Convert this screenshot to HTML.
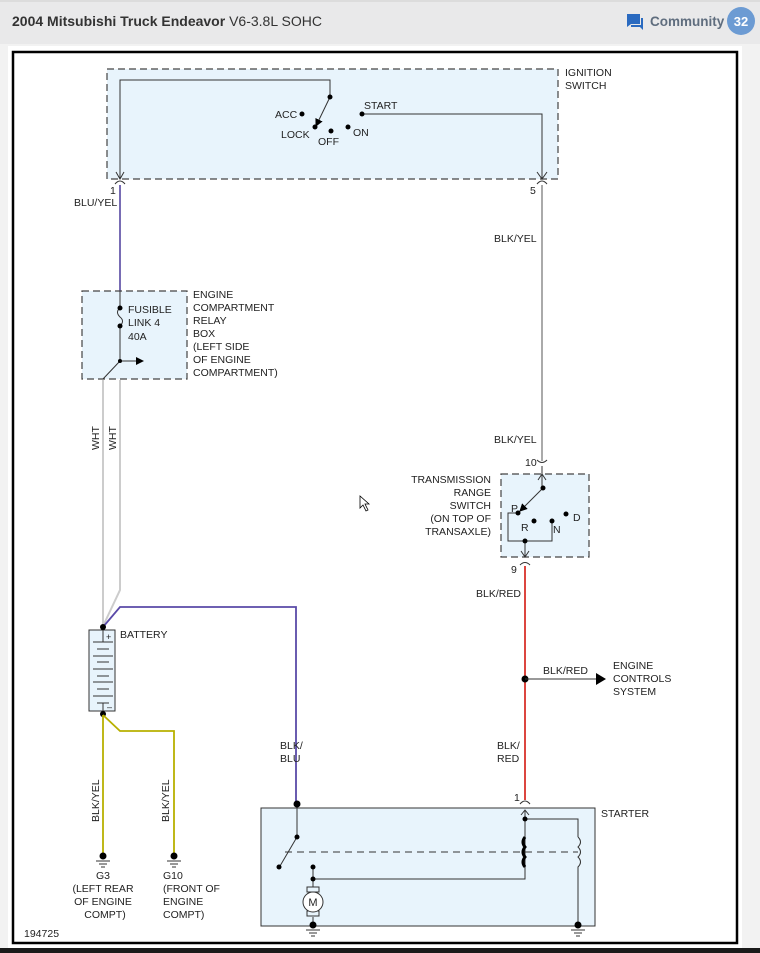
<!DOCTYPE html>
<html><head><style>
html,body{margin:0;padding:0;width:760px;height:953px;overflow:hidden;background:#f2f2f2;font-family:"Liberation Sans",sans-serif}
svg{position:absolute;left:0;top:0}
</style></head><body>
<svg width="760" height="953" viewBox="0 0 760 953" font-family="Liberation Sans, sans-serif">
<defs>
<marker id="ah" markerWidth="8" markerHeight="8" refX="7" refY="4" orient="auto" markerUnits="userSpaceOnUse"><path d="M0,0 L8,4 L0,8z" fill="#000"/></marker>
</defs>
<rect x="0" y="0" width="760" height="44" fill="#e9e9ea"/>
<line x1="0" y1="1" x2="760" y2="1" stroke="#cfcfcf"/>
<text x="12" y="26" font-size="14" fill="#333"><tspan font-weight="bold">2004 Mitsubishi Truck Endeavor</tspan> V6-3.8L SOHC</text>
<path d="M627,14 h13 v10 h-9 l-4,3z" fill="#2a6ac0"/><path d="M641,18 h2 v12 l-3,-3 h-9 v-2 h10z" fill="#2a6ac0"/>
<text x="650" y="26" font-size="13.5" font-weight="bold" fill="#5f6d7e">Community</text>
<circle cx="741" cy="21" r="14" fill="#6c9bd3"/>
<text x="741" y="26" font-size="13" font-weight="bold" fill="#fff" text-anchor="middle">32</text>
<rect x="8" y="46" width="734" height="902" fill="#fff"/>
<rect x="13" y="52" width="724" height="891" fill="#fff" stroke="#000" stroke-width="2.5"/>
<rect x="0" y="948" width="760" height="5" fill="#1a1a1a"/>

<g font-size="10.5" fill="#222">
<!-- ignition -->
<rect x="107" y="69" width="451" height="110" fill="#e8f4fc" stroke="#444" stroke-width="1.2" stroke-dasharray="7,4"/>
<text x="565" y="76">IGNITION</text><text x="565" y="89">SWITCH</text>
<g stroke="#333" fill="none" stroke-width="1">
<polyline points="120,178 120,80 330,80 330,97"/>
<line x1="330" y1="97" x2="316" y2="126" marker-end="url(#ah)"/>
<polyline points="362,114 542,114 542,178"/>
<path d="M116,172 L120,179 L124,172 M115,184 q5,-6 10,0 M537,172 L542,179 L547,172 M537,184 q5,-6 10,0"/>
</g>
<g fill="#000"><circle cx="330" cy="97" r="2.5"/><circle cx="302" cy="114" r="2.5"/><circle cx="315" cy="127" r="2.5"/><circle cx="331" cy="131" r="2.5"/><circle cx="348" cy="127" r="2.5"/><circle cx="362" cy="114" r="2.5"/></g>
<text x="275" y="118">ACC</text><text x="281" y="138">LOCK</text><text x="318" y="145">OFF</text><text x="353" y="136">ON</text><text x="364" y="109">START</text>
<text x="110" y="194">1</text><text x="530" y="194">5</text>
<text x="74" y="206">BLU/YEL</text>
<line x1="120" y1="185" x2="120" y2="300" stroke="#4b3a9a" stroke-width="1.5"/>
<line x1="542" y1="185" x2="542" y2="461" stroke="#555" stroke-width="1"/>
<text x="494" y="242">BLK/YEL</text><text x="494" y="443">BLK/YEL</text>

<!-- fuse box -->
<rect x="82" y="291" width="105" height="88" fill="#e8f4fc" stroke="#444" stroke-width="1.2" stroke-dasharray="7,4"/>
<g stroke="#333" fill="none">
<path d="M120,291 V308 M120,308 q-5,4 0,9 q5,4 0,9 M120,326 V361"/>
<line x1="120" y1="361" x2="143" y2="361" marker-end="url(#ah)"/>
<line x1="120" y1="361" x2="103" y2="379"/>
</g>
<g fill="#000"><circle cx="120" cy="308" r="2.5"/><circle cx="120" cy="326" r="2.5"/><circle cx="120" cy="361" r="2"/></g>
<text x="128" y="313">FUSIBLE</text><text x="128" y="326">LINK 4</text><text x="128" y="340">40A</text>
<text x="193" y="298">ENGINE</text><text x="193" y="311">COMPARTMENT</text><text x="193" y="324">RELAY</text><text x="193" y="337">BOX</text><text x="193" y="350">(LEFT SIDE</text><text x="193" y="363">OF ENGINE</text><text x="193" y="376">COMPARTMENT)</text>
<g stroke="#ccc" stroke-width="2" fill="none">
<polyline points="103,380 103,625"/><polyline points="120,380 120,590 104,624"/>
</g>
<text transform="translate(99,450) rotate(-90)">WHT</text>
<text transform="translate(116,450) rotate(-90)">WHT</text>

<!-- battery -->
<polyline points="103,627 120,607 296,607 296,803" stroke="#5a4aa8" stroke-width="1.8" fill="none"/>
<rect x="89" y="630" width="26" height="81" fill="#e8f4fc" stroke="#333"/>
<g stroke="#333"><line x1="103" y1="630" x2="103" y2="642"/><line x1="93" y1="642" x2="113" y2="642"/><line x1="97" y1="649" x2="109" y2="649"/><line x1="93" y1="656" x2="113" y2="656"/><line x1="97" y1="662" x2="109" y2="662"/><line x1="93" y1="669" x2="113" y2="669"/><line x1="97" y1="676" x2="109" y2="676"/><line x1="93" y1="682" x2="113" y2="682"/><line x1="97" y1="689" x2="109" y2="689"/><line x1="93" y1="696" x2="113" y2="696"/><line x1="97" y1="703" x2="109" y2="703"/><line x1="103" y1="703" x2="103" y2="711"/></g>
<text x="106" y="640" font-size="9">+</text><text x="107" y="710" font-size="9">–</text>
<circle cx="103" cy="627" r="3" fill="#000"/><circle cx="103" cy="714" r="3" fill="#000"/>
<text x="120" y="638">BATTERY</text>
<g stroke="#b8b000" stroke-width="1.8" fill="none"><polyline points="103,715 103,854"/><polyline points="103,715 120,731 174,731 174,854"/></g>
<text transform="translate(99,822) rotate(-90)">BLK/YEL</text>
<text transform="translate(169,822) rotate(-90)">BLK/YEL</text>
<g stroke="#333"><path d="M96,861h14M99,864h8M101,867h4 M167,861h14M170,864h8M172,867h4"/></g>
<circle cx="103" cy="856" r="3.5" fill="#000"/><circle cx="174" cy="856" r="3.5" fill="#000"/>
<text x="103" y="879" text-anchor="middle">G3</text><text x="103" y="892" text-anchor="middle">(LEFT REAR</text><text x="103" y="905" text-anchor="middle">OF ENGINE</text><text x="105" y="918" text-anchor="middle">COMPT)</text>
<text x="163" y="879">G10</text><text x="163" y="892">(FRONT OF</text><text x="163" y="905">ENGINE</text><text x="163" y="918">COMPT)</text>
<text x="280" y="749">BLK/</text><text x="280" y="762">BLU</text>

<!-- trans switch -->
<rect x="501" y="474" width="88" height="83" fill="#e8f4fc" stroke="#444" stroke-width="1.2" stroke-dasharray="7,4"/>
<g stroke="#333" fill="none">
<path d="M537,460 q5,5 10,0 M542,466 V488 M538,480 l4,-6 l4,6"/>
<line x1="543" y1="488" x2="520" y2="511" marker-end="url(#ah)"/>
<polyline points="518,513 508,513 508,541 552,541 552,521"/>
<path d="M525,541 V557 M521,551 l4,6 l4,-6 M520,565 q5,-5 10,0"/>
</g>
<g fill="#000"><circle cx="543" cy="488" r="2.5"/><circle cx="518" cy="513" r="2.5"/><circle cx="534" cy="521" r="2.5"/><circle cx="552" cy="521" r="2.5"/><circle cx="566" cy="514" r="2.5"/><circle cx="525" cy="541" r="2.5"/></g>
<text x="511" y="512">P</text><text x="521" y="531">R</text><text x="553" y="533">N</text><text x="573" y="521">D</text>
<text x="525" y="466">10</text><text x="511" y="573">9</text>
<g text-anchor="end"><text x="491" y="483">TRANSMISSION</text><text x="491" y="496">RANGE</text><text x="491" y="509">SWITCH</text><text x="491" y="522">(ON TOP OF</text><text x="491" y="535">TRANSAXLE)</text></g>
<line x1="525" y1="566" x2="525" y2="800" stroke="#d8312a" stroke-width="1.8"/>
<text x="476" y="597">BLK/RED</text>
<circle cx="525" cy="679" r="3.5" fill="#000"/>
<line x1="525" y1="679" x2="597" y2="679" stroke="#333"/><path d="M596,673 L606,679 L596,685z" fill="#000"/>
<text x="543" y="674">BLK/RED</text>
<text x="613" y="669">ENGINE</text><text x="613" y="682">CONTROLS</text><text x="613" y="695">SYSTEM</text>
<text x="497" y="749">BLK/</text><text x="497" y="762">RED</text>

<!-- starter -->
<rect x="261" y="808" width="334" height="118" fill="#e8f4fc" stroke="#333"/>
<text x="601" y="817">STARTER</text><text x="514" y="801">1</text>
<g stroke="#333" fill="none">
<path d="M520,804 q5,-6 10,0 M525,810 V819 M521,815 l4,-5 l4,5"/>
<path d="M297,804 V837 L280,866"/>
<line x1="285" y1="852" x2="578" y2="852" stroke-dasharray="7,5"/>
<path d="M313,867 V879 H525 V819 H578 V837"/>
<path d="M525,837 q-4,5 0,10 q-4,5 0,10 q-4,5 0,10" stroke="#000" stroke-width="3"/>
<path d="M578,837 q5,5 0,10 q5,5 0,10 q5,5 0,10 V924"/>
<path d="M313,879 V887 M313,917 V924"/>
<rect x="307" y="887" width="12" height="5"/><rect x="307" y="911" width="12" height="5"/>
<circle cx="313" cy="902" r="10" fill="#fff"/>
<path d="M306,930h14M309,933h8M311,936h4 M571,930h14M574,933h8M576,936h4"/>
</g>
<text x="313" y="906" text-anchor="middle" font-size="11">M</text>
<g fill="#000"><circle cx="297" cy="804" r="3.5"/><circle cx="297" cy="837" r="2.5"/><circle cx="279" cy="867" r="2.5"/><circle cx="313" cy="867" r="2.5"/><circle cx="313" cy="879" r="2.5"/><circle cx="525" cy="819" r="2.5"/><circle cx="313" cy="925" r="3.5"/><circle cx="578" cy="925" r="3.5"/></g>
<text x="24" y="937">194725</text>
<path d="M360,496 v12 l3,-3 l3,6 l2,-1 l-3,-6 h4z" fill="#fff" stroke="#000" stroke-width="0.8"/>
</g>
</svg>
</body></html>
